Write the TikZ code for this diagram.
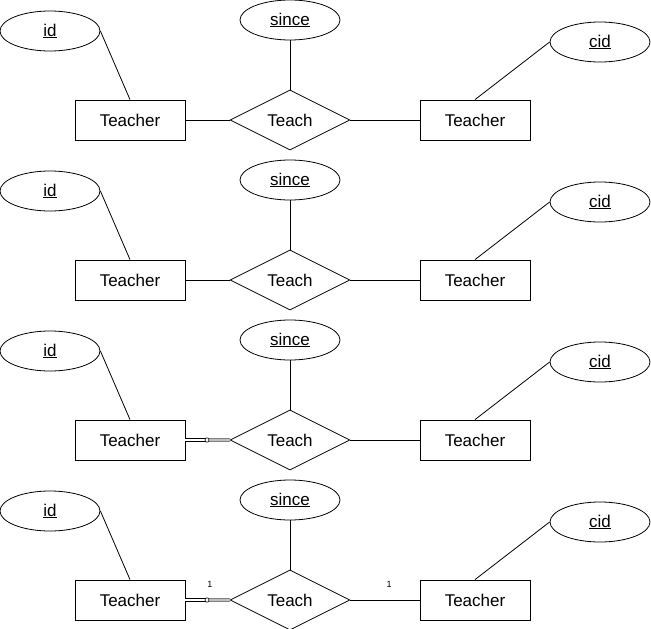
\documentclass[tikz,border=0pt]{standalone}
\usepackage{fontspec}
\setmainfont{Liberation Sans}
\usetikzlibrary{
  positioning,
  shapes.geometric
}

\begin{document}
\begin{tikzpicture}[
  x=1pt, y=-1pt,
  line width=0.8pt,
  font=\fontsize{17}{20}\selectfont,
  entity/.style={
    rectangle, draw,
    minimum width=110pt, minimum height=40pt, inner sep=0pt
  },
  relation/.style={
    diamond, draw, aspect=2,
    minimum width=120pt, minimum height=60pt, inner sep=0pt
  },
  attribute/.style={
    ellipse, draw,
    minimum width=100pt, minimum height=40pt, inner sep=0pt
  },
  card/.style={font=\fontsize{9}{10}\selectfont, inner sep=1pt}
]
\useasboundingbox (0,0) rectangle (651,629);

\foreach \r/\dy in {1/0, 2/160, 3/320, 4/480} {
  \node[attribute] (id-\r) at (50, 31+\dy) {\underline{id}};
  \node[attribute] (since-\r) at (290, 20+\dy) {\underline{since}};
  \node[attribute] (cid-\r) at (600, 42+\dy) {\underline{cid}};
  \node[entity] (teacher-l-\r) at (130, 120+\dy) {Teacher};
  \node[relation] (teach-\r) at (290, 120+\dy) {Teach};
  \node[entity] (teacher-r-\r) at (475, 120+\dy) {Teacher};
  \coordinate (link-\r) at (207, 120+\dy);

  \draw (id-\r.east) -- (teacher-l-\r.north);
  \draw (since-\r.south) -- (teach-\r.north);
  \draw (teacher-r-\r.north) -- (cid-\r.west);
  \draw (teach-\r.east) -- (teacher-r-\r.west);
}

% plain links
\foreach \r in {1,2} {
  \draw (teacher-l-\r.east) -- (teach-\r.west);
}

% total participation links
\foreach \r in {3,4} {
  \draw[double=white, double distance=2.2pt, line width=0.7pt]
    (teacher-l-\r.east) -- (link-\r);
  \draw[draw=gray, double=lightgray, double distance=2.2pt, line width=0.7pt]
    (link-\r) -- (teach-\r.west);
  \draw[line width=0.6pt, fill=white] (link-\r) ellipse (2pt and 2.2pt);
}

% cardinalities
\node[card] (card-l) at (210, 584) {1};
\node[card] (card-r) at (389, 584) {1};
\end{tikzpicture}
\end{document}
